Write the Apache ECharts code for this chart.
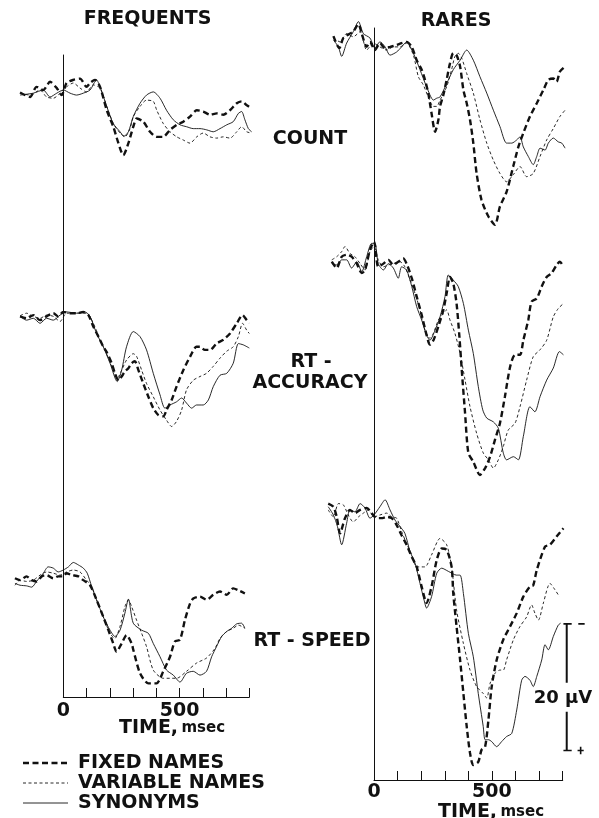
<!DOCTYPE html>
<html>
<head>
<meta charset="utf-8">
<script src="https://cdn.jsdelivr.net/npm/echarts@6/dist/echarts.min.js"></script>
<style>
html,body{margin:0;padding:0;background:#fff;}
#chart{width:599px;height:818px;}
</style>
</head>
<body>
<div id="chart"></div>
<script>
// Averaged ERP waveforms. Each point is [time after stimulus (ms), amplitude (µV)],
// amplitude measured from the prestimulus baseline, positive plotted downward.

// ---- FREQUENTS ----
const freqCountFixed = [[-186,0.4],[-143,1.1],[-115,-0.5],[-86,0],[-57,-1.3],[-28,-0.3],[-7,0.8],[14,-1.1],[43,-1.6],[72,-1.8],[100,-0.5],[115,-1.1],[136,-1.6],[158,-0.5],[187,3.2],[215,5.8],[237,8.4],[258,10.3],[280,8.4],[301,5.8],[316,4.5],[344,5.0],[373,6.6],[402,7.4],[430,7.4],[459,6.3],[488,5.5],[516,5.0],[545,4.2],[574,3.2],[602,3.4],[631,3.9],[660,3.7],[688,3.9],[717,3.2],[746,2.1],[767,1.8],[789,2.4],[810,2.9]];
const freqCountVariable = [[-186,0.5],[-143,0.8],[-100,0],[-72,1.1],[-43,1.3],[-14,0.5],[14,-0.5],[43,-1.1],[72,-0.3],[100,0.3],[129,-0.8],[158,-0.3],[187,2.6],[215,5.3],[244,6.8],[265,7.4],[287,6.1],[301,4.2],[330,2.6],[358,1.6],[387,1.8],[402,3.2],[430,5.3],[459,6.6],[488,7.4],[516,7.9],[545,8.4],[574,7.4],[602,6.8],[631,7.4],[660,7.6],[688,7.4],[717,7.6],[746,6.6],[767,5.8],[789,6.6],[810,6.8]];
const freqCountSynonyms = [[-186,0.8],[-129,0.5],[-86,0],[-57,1.1],[-28,0.5],[0,0],[29,0.5],[57,0.8],[86,0.5],[115,0],[143,-1.6],[158,-0.5],[187,2.6],[215,5.3],[244,6.6],[261,7.3],[280,6.6],[301,4.2],[330,2.1],[358,0.8],[387,0.3],[416,1.3],[444,3.2],[473,4.7],[502,5.5],[530,5.8],[559,6.1],[588,6.1],[617,6.3],[645,6.6],[674,6.1],[703,5.5],[731,5.0],[753,3.7],[767,3.4],[781,4.7],[796,6.1],[810,6.6]];

const freqAccFixed = [[-186,-0.1],[-158,0.2],[-129,-0.3],[-100,0.5],[-72,-0.1],[-43,-0.6],[-22,-0.1],[0,-0.8],[29,-0.6],[57,-0.6],[86,-0.8],[108,-0.3],[129,1.5],[151,3.1],[172,4.7],[186,5.5],[208,7.3],[222,8.9],[237,10.0],[251,9.4],[265,8.6],[280,8.1],[294,7.3],[308,7.0],[323,8.4],[344,10.5],[366,12.6],[387,14.4],[409,15.5],[430,15.7],[444,14.7],[466,13.1],[487,11.0],[516,8.4],[545,6.3],[573,4.7],[588,4.7],[609,5.2],[631,5.2],[659,4.2],[688,3.6],[717,2.6],[746,1.0],[771,-0.3],[789,0.5],[800,1.0]];
const freqAccVariable = [[-186,-0.2],[-158,-0.6],[-129,-0.1],[-100,0.2],[-72,-0.3],[-43,-0.1],[-14,0.7],[14,-0.6],[57,-0.6],[100,-0.6],[129,1.0],[158,3.6],[186,5.8],[215,8.4],[232,9.7],[251,8.4],[272,6.8],[301,5.8],[315,6.2],[337,8.4],[358,10.5],[387,12.6],[416,14.7],[444,16.3],[466,17.3],[487,16.5],[509,14.7],[530,11.5],[559,10.0],[588,9.4],[616,8.9],[645,7.8],[674,6.5],[703,5.4],[731,4.7],[753,3.1],[771,1.0],[789,2.1],[800,2.6]];
const freqAccSynonyms = [[-186,-0.1],[-158,0.5],[-129,0.2],[-100,1.0],[-72,0.2],[-43,0.5],[-14,-0.3],[14,-0.8],[57,-0.6],[93,-0.8],[115,-0.1],[143,2.6],[172,4.7],[201,7.3],[232,10.2],[251,8.4],[272,4.7],[301,2.3],[330,3.1],[358,5.2],[387,8.9],[416,12.3],[437,14.4],[459,13.9],[487,13.4],[509,12.8],[530,13.6],[552,14.4],[573,13.9],[602,13.9],[624,13.1],[645,11.0],[674,9.2],[703,8.9],[731,7.3],[753,4.2],[774,4.4],[800,4.9]];

const freqSpeedFixed = [[-208,0.2],[-186,0.5],[-158,-0.1],[-136,0.5],[-115,0.7],[-93,-0.1],[-72,-0.3],[-43,0.2],[-22,-0.1],[0,-0.1],[14,-0.6],[36,-0.3],[65,-0.1],[86,0.5],[115,1.3],[143,3.6],[172,6.3],[194,8.4],[215,10.5],[229,11.8],[251,10.5],[272,9.2],[294,10.5],[301,11.5],[330,15.2],[366,16.8],[401,16.8],[430,14.9],[459,12.6],[480,10.2],[502,9.9],[523,6.8],[545,4.2],[559,3.4],[588,3.1],[616,3.6],[645,2.8],[674,2.3],[703,2.8],[731,1.8],[753,2.1],[781,2.6]];
const freqSpeedVariable = [[-208,1.3],[-186,0.5],[-158,0.7],[-129,0.5],[-100,-0.3],[-72,-0.8],[-43,-0.6],[-14,-0.3],[14,-0.8],[43,-1.1],[72,-0.8],[100,0.5],[122,1.5],[143,3.6],[172,6.3],[201,8.9],[222,9.7],[244,7.8],[265,4.7],[280,3.6],[294,4.7],[315,6.8],[337,8.9],[358,11.0],[387,14.7],[430,16.0],[487,16.0],[530,14.9],[573,13.6],[616,12.8],[652,11.3],[674,9.7],[703,8.6],[731,8.1],[753,7.6],[781,8.1]];
const freqSpeedSynonyms = [[-208,1.0],[-186,1.3],[-158,1.4],[-136,1.6],[-115,0.7],[-86,-0.6],[-65,-1.6],[-43,-1.4],[-22,-0.8],[0,-1.1],[22,-1.6],[43,-2.3],[65,-1.9],[86,-1.4],[103,-0.6],[122,1.5],[143,3.6],[172,6.3],[201,8.4],[222,9.4],[244,8.4],[265,5.7],[280,3.5],[301,7.3],[337,8.4],[366,8.9],[387,10.5],[416,12.6],[444,14.7],[473,15.5],[502,16.6],[530,15.2],[559,14.9],[588,15.5],[616,14.9],[638,12.6],[659,11.0],[681,9.4],[703,8.6],[724,8.1],[746,7.4],[767,7.3],[781,8.1]];

// ---- RARES ----
const rareCountFixed = [[-172,-1.4],[-147,0.5],[-130,-1.1],[-102,-1.8],[-88,-2.1],[-66,-3.3],[-52,-1.8],[-31,0.3],[-17,-0.5],[4,0.8],[25,-0.3],[47,0.5],[68,0.3],[96,0],[117,-0.3],[138,-0.5],[160,0.3],[181,2.4],[202,3.9],[216,5.5],[230,7.6],[244,10.8],[259,13.7],[273,11.8],[280,9.7],[294,7.9],[308,5.5],[322,2.9],[336,1.3],[350,1.6],[365,3.4],[379,7.1],[393,9.2],[407,11.8],[421,15.5],[435,20.3],[456,24.5],[485,27.1],[513,28.4],[534,25.5],[562,23.2],[590,19.2],[612,16.1],[633,13.9],[661,11.3],[690,9.2],[718,7.1],[739,5.5],[760,5.3],[774,5.8],[788,4.2],[810,3.4]];
const rareCountVariable = [[-172,-1.1],[-144,-0.5],[-116,-1.8],[-88,-1.3],[-59,-2.1],[-31,0.8],[-3,-0.3],[25,0.3],[54,0.8],[82,0.3],[110,0.3],[138,-0.3],[167,1.6],[188,5.0],[209,6.3],[230,8.2],[252,9.7],[266,9.7],[280,8.7],[308,6.6],[329,3.9],[343,1.8],[357,1.3],[372,2.1],[393,4.5],[421,7.6],[449,11.8],[478,15.5],[506,18.2],[534,20.3],[562,21.6],[590,20.5],[619,19.2],[647,20.8],[675,20.3],[704,17.6],[732,15.0],[760,13.2],[788,11.3],[810,10.3]];
const rareCountSynonyms = [[-172,-0.8],[-151,0.3],[-137,1.8],[-116,-0.3],[-88,-2.1],[-66,-3.7],[-45,-1.8],[-17,-1.1],[4,0.5],[25,-0.5],[47,0.3],[68,1.6],[96,1.1],[117,0.3],[138,-0.5],[167,1.3],[195,3.9],[223,6.6],[252,8.7],[266,8.4],[280,8.2],[308,6.1],[336,3.9],[365,2.4],[393,0.8],[421,2.4],[449,5.0],[478,7.6],[506,10.3],[534,12.9],[562,15.5],[584,15.5],[605,15.0],[619,14.5],[633,16.1],[654,17.6],[675,18.9],[690,17.6],[704,16.3],[725,16.6],[739,15.5],[760,14.7],[781,15.3],[796,15.5],[810,16.3]];

const rareAccFixed = [[-179,-0.2],[-158,0.8],[-137,-1.0],[-116,-1.3],[-95,-1.0],[-73,0.1],[-52,1.6],[-38,1.1],[-17,-2.1],[0,-3.4],[18,0.6],[40,0.1],[61,-0.5],[82,0.3],[103,-0.2],[124,-0.7],[138,0.1],[160,2.4],[181,5.3],[202,8.2],[223,11.4],[237,12.9],[252,12.2],[273,10.0],[294,7.4],[308,4.8],[322,2.2],[336,3.2],[350,6.4],[362,11.6],[372,16.9],[386,23.7],[400,30.0],[421,31.4],[449,33.5],[471,32.4],[492,30.6],[513,27.9],[534,25.3],[555,21.1],[577,16.4],[598,14.5],[619,14.5],[633,12.2],[654,9.0],[668,6.1],[690,5.6],[711,3.7],[732,2.2],[753,1.6],[774,0.3],[788,-0.2],[803,0.6]];
const rareAccVariable = [[-179,-0.5],[-158,-1.0],[-137,-1.8],[-123,-2.6],[-102,-1.5],[-81,-1.0],[-59,0.1],[-38,1.1],[-17,-1.8],[0,-2.6],[18,-0.5],[40,0.6],[61,0.3],[82,0.1],[110,-0.2],[131,0.6],[153,2.7],[174,4.8],[195,7.4],[216,10.6],[237,11.9],[252,11.1],[273,9.0],[294,8.0],[308,7.4],[322,9.0],[343,11.1],[365,14.3],[386,18.5],[407,22.7],[435,26.9],[463,30.0],[485,31.1],[506,32.4],[527,31.1],[548,29.0],[569,26.4],[598,25.3],[619,22.7],[647,18.5],[675,14.8],[704,13.7],[732,12.2],[760,8.5],[781,7.2],[803,6.4]];
const rareAccSynonyms = [[-179,0.1],[-158,0.3],[-137,-0.5],[-116,-0.5],[-95,0.8],[-73,-0.2],[-52,1.4],[-31,-1.0],[-10,-3.1],[4,-3.1],[18,0.1],[40,1.1],[61,0.1],[82,0.8],[103,2.4],[117,0.6],[138,1.1],[160,3.7],[181,6.9],[202,9.0],[223,11.4],[237,12.2],[259,10.6],[280,8.5],[301,5.3],[315,1.9],[336,2.7],[357,3.7],[379,6.4],[400,10.6],[421,14.3],[442,19.5],[461,23.2],[478,24.5],[506,25.1],[527,26.1],[548,30.0],[562,31.1],[591,30.6],[612,31.1],[633,27.4],[661,22.7],[682,23.5],[704,21.1],[732,18.5],[760,16.6],[786,14.0],[803,14.5]];

const rareSpeedFixed = [[-194,-1.8],[-172,-1.3],[-158,0.3],[-144,2.9],[-123,0.5],[-102,-0.8],[-81,-0.3],[-59,-0.8],[-31,-1.1],[-10,-0.3],[11,0.5],[32,0.5],[54,0.3],[75,0.5],[96,1.6],[117,3.2],[138,4.7],[160,6.6],[181,8.2],[202,11.3],[223,13.9],[244,11.3],[266,7.1],[287,5.3],[308,5.5],[329,8.2],[336,12.4],[350,17.6],[365,22.9],[379,28.2],[393,33.4],[407,37.6],[421,39.5],[442,39.0],[456,37.1],[471,36.6],[485,32.4],[499,27.1],[520,22.9],[548,19.7],[577,17.6],[605,15.5],[633,12.9],[661,11.3],[675,11.1],[690,8.7],[725,5.0],[746,4.7],[774,3.4],[803,2.1]];
const rareSpeedVariable = [[-194,-0.8],[-172,0.3],[-151,-1.8],[-130,-1.6],[-109,0],[-88,1.1],[-66,0.3],[-45,-0.3],[-24,-0.8],[0,0.3],[25,0],[54,-0.3],[75,0.3],[96,0.5],[117,2.6],[138,4.5],[160,6.3],[181,8.2],[216,8.2],[244,6.3],[280,3.7],[308,4.7],[329,8.2],[350,15.0],[379,20.3],[407,24.5],[435,27.1],[463,28.2],[478,28.9],[492,26.6],[513,25.0],[534,24.5],[548,24.5],[562,22.9],[591,19.7],[619,17.6],[647,16.1],[668,14.2],[682,15.5],[697,16.6],[718,13.9],[746,10.8],[767,11.8],[786,12.9]];
const rareSpeedSynonyms = [[-194,-1.3],[-172,0],[-155,1.8],[-137,4.7],[-116,1.3],[-102,-0.8],[-81,-0.5],[-59,-1.8],[-38,-1.1],[-17,0.5],[0,0],[25,-1.3],[47,-2.4],[68,-0.8],[89,0.8],[110,1.8],[131,2.9],[153,5.8],[174,7.6],[195,10.8],[212,13.4],[223,14.7],[244,12.9],[266,9.2],[287,8.4],[315,8.9],[350,9.5],[365,9.5],[379,12.4],[400,18.7],[421,22.4],[442,28.2],[463,33.4],[471,35.5],[485,35.5],[499,35.8],[520,36.6],[541,35.8],[562,35.0],[584,34.5],[605,30.8],[626,26.1],[640,25.5],[661,26.1],[675,27.1],[690,25.5],[711,22.9],[725,20.5],[739,21.3],[760,19.2],[781,17.4],[791,17.1]];

// Calibration bar (µV) drawn in the RARES / RT - SPEED panel
const CAL_UV = 20;
const CAL_TIME = 817;
const CAL_TOP = 17.2;

// Axis ticks (ms) and which ticks carry a label
const TIME_TICK_STEP = 100;
const TIME_AXIS_MAX = 800;
const TIME_LABELS = [0, 500];

const SERIES_NAMES = ['FIXED NAMES', 'VARIABLE NAMES', 'SYNONYMS'];

// ---- layout ----
const FONT = '"DejaVu Sans", "Liberation Sans", sans-serif';
const INK = '#111';
const T_MIN = -250, T_MAX = 900;     // panel time window (ms)
const V_MIN = -7, V_MAX = 53;        // panel amplitude window (µV)
const PX_PER_UV = 6.33;

const columns = [
  { zero: 63.3, msPx: 0.2325, top: 55, bottom: 697, labelMargin: 5 },
  { zero: 374, msPx: 0.2359, top: 28, bottom: 780, labelMargin: 3 }
];

const panels = [
  { col: 0, base: 90,  curves: [freqCountFixed, freqCountVariable, freqCountSynonyms] },
  { col: 0, base: 317, curves: [freqAccFixed, freqAccVariable, freqAccSynonyms] },
  { col: 0, base: 577, curves: [freqSpeedFixed, freqSpeedVariable, freqSpeedSynonyms] },
  { col: 1, base: 45,  curves: [rareCountFixed, rareCountVariable, rareCountSynonyms] },
  { col: 1, base: 263, curves: [rareAccFixed, rareAccVariable, rareAccSynonyms] },
  { col: 1, base: 515, curves: [rareSpeedFixed, rareSpeedVariable, rareSpeedSynonyms] }
];

const lineStyles = [
  { color: INK, width: 2.4, type: [6, 3.5] },
  { color: INK, width: 0.9, type: [3, 2.5] },
  { color: INK, width: 0.9, type: 'solid' }
];

const grids = [], xAxes = [], yAxes = [], series = [];

// Frame grids: time axis along the bottom, stimulus-onset line at 0 ms
columns.forEach((c, i) => {
  grids.push({ left: c.zero, top: c.top, width: TIME_AXIS_MAX * c.msPx, height: c.bottom - c.top,
               containLabel: false, outerBoundsMode: 'none' });
  xAxes.push({
    gridIndex: i, type: 'value', min: 0, max: TIME_AXIS_MAX, interval: TIME_TICK_STEP,
    axisLine: { show: true, onZero: false, lineStyle: { color: INK, width: 1 } },
    axisTick: { show: true, inside: true, length: 9, lineStyle: { color: INK, width: 1 } },
    axisLabel: {
      show: true, margin: c.labelMargin, color: INK, fontFamily: FONT, fontWeight: 'bold', fontSize: 19,
      formatter: v => (TIME_LABELS.indexOf(v) >= 0 ? String(v) : '')
    },
    splitLine: { show: false }
  });
  yAxes.push({
    gridIndex: i, type: 'value', min: 0, max: 1,
    axisLine: { show: true, onZero: false, lineStyle: { color: INK, width: 1 } },
    axisTick: { show: false }, axisLabel: { show: false }, splitLine: { show: false }
  });
});

// Waveform panels
panels.forEach((p) => {
  const c = columns[p.col];
  const gi = grids.length;
  grids.push({
    left: c.zero + T_MIN * c.msPx, width: (T_MAX - T_MIN) * c.msPx,
    top: p.base + V_MIN * PX_PER_UV, height: (V_MAX - V_MIN) * PX_PER_UV,
    containLabel: false, outerBoundsMode: 'none'
  });
  xAxes.push({ gridIndex: gi, type: 'value', min: T_MIN, max: T_MAX, show: false });
  yAxes.push({ gridIndex: gi, type: 'value', min: V_MIN, max: V_MAX, inverse: true, show: false });
  p.curves.forEach((data, j) => {
    series.push({
      type: 'line', name: SERIES_NAMES[j], xAxisIndex: gi, yAxisIndex: gi,
      data: data, symbol: 'none', smooth: 0.25, clip: false,
      lineStyle: lineStyles[j], itemStyle: { color: INK }, z: 3 - j
    });
  });
  p.gridIndex = gi;
});

// Calibration bar: vertical bar of CAL_UV with end caps, broken where the label sits
const calGrid = panels[5].gridIndex;
const calBottom = CAL_TOP + CAL_UV;
const calSegments = [
  [[CAL_TIME, CAL_TOP], [CAL_TIME, CAL_TOP + CAL_UV * 0.465]],
  [[CAL_TIME, CAL_TOP + CAL_UV * 0.695], [CAL_TIME, calBottom]],
  [[CAL_TIME - 14, CAL_TOP], [CAL_TIME + 21, CAL_TOP]],
  [[CAL_TIME - 14, calBottom], [CAL_TIME + 21, calBottom]],
  [[CAL_TIME + 49, CAL_TOP], [CAL_TIME + 76, CAL_TOP]],
  [[CAL_TIME + 46, calBottom], [CAL_TIME + 72, calBottom]],
  [[CAL_TIME + 59, calBottom - 0.6], [CAL_TIME + 59, calBottom + 0.6]]
];
calSegments.forEach((seg, i) => {
  series.push({
    type: 'line', name: 'cal' + i, xAxisIndex: calGrid, yAxisIndex: calGrid,
    data: seg, symbol: 'none', clip: false,
    lineStyle: { color: INK, width: i < 2 ? 2 : 1.6 }
  });
});

const bold = (size) => ({ fontFamily: FONT, fontWeight: 'bold', fontSize: size, fill: INK });
const label = (x, y, text, size) => ({
  type: 'text', x: x, y: y,
  style: Object.assign({ text: text, align: 'center', verticalAlign: 'middle' }, bold(size))
});

const timeTitle = (x, y) => ({
  type: 'text', x: x, y: y,
  style: {
    text: '{a|TIME,} {b|msec}', align: 'center', verticalAlign: 'middle',
    rich: {
      a: { fontFamily: FONT, fontWeight: 'bold', fontSize: 19, fill: INK, color: INK },
      b: { fontFamily: FONT, fontWeight: 'bold', fontSize: 15, fill: INK, color: INK }
    }
  }
});

// Key: sample stroke of each series style followed by its name
const KEY_LEFT = 23, KEY_LINE_W = 45, KEY_TEXT_X = 78, KEY_TOP = 763, KEY_ROW = 20;
const keyItems = [];
SERIES_NAMES.forEach((name, j) => {
  const y = KEY_TOP + j * KEY_ROW;
  const ls = lineStyles[j];
  keyItems.push({
    type: 'line',
    shape: { x1: KEY_LEFT, y1: y, x2: KEY_LEFT + KEY_LINE_W, y2: y },
    style: { stroke: ls.color, lineWidth: ls.width, lineDash: Array.isArray(ls.type) ? ls.type : null }
  });
  keyItems.push({
    type: 'text', x: KEY_TEXT_X, y: y,
    style: Object.assign({ text: name, align: 'left', verticalAlign: 'middle' }, bold(19))
  });
});

const option = {
  animation: false,
  backgroundColor: '#fff',
  grid: grids,
  xAxis: xAxes,
  yAxis: yAxes,
  series: series,
  graphic: [
    label(147.5, 19, 'FREQUENTS', 19),
    label(456, 21, 'RARES', 19),
    label(310, 139, 'COUNT', 19),
    label(311, 362, 'RT -', 19),
    label(310, 383, 'ACCURACY', 19),
    label(312, 641, 'RT - SPEED', 19),
    label(563, 698, CAL_UV + ' μV', 18),
    timeTitle(172, 728),
    timeTitle(491, 812)
  ].concat(keyItems)
};

const chart = echarts.init(document.getElementById('chart'), null, { renderer: 'canvas' });
chart.setOption(option);
</script>
</body>
</html>
